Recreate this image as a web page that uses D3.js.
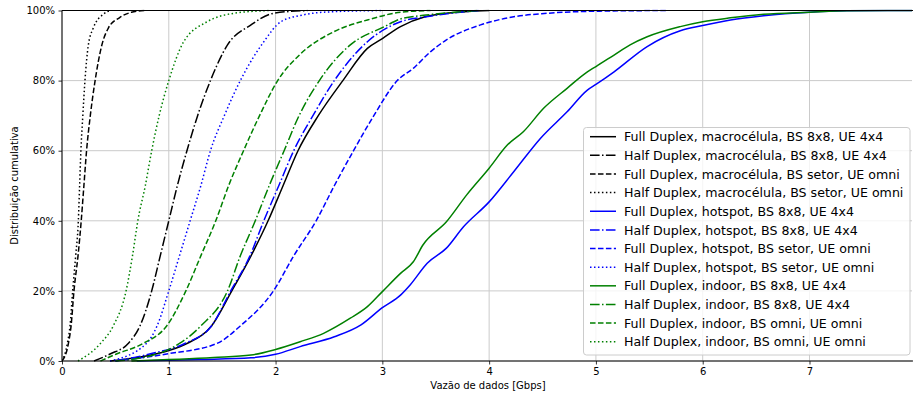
<!DOCTYPE html>
<html>
<head>
<meta charset="utf-8">
<script src="https://cdn.jsdelivr.net/npm/d3@7"></script>
<style>
  html, body { margin: 0; padding: 0; background: #fff; }
  svg { display: block; font-family: "DejaVu Sans", sans-serif; }
</style>
</head>
<body>
<svg id="chart" width="913" height="398"></svg>
<script>
// ---- Data (x: Gbps, y: cumulative %) ----
const xTicks = [0, 1, 2, 3, 4, 5, 6, 7];
const yTicks = [0, 20, 40, 60, 80, 100];
const xLabel = "Vazão de dados [Gbps]";
const yLabel = "Distribuição cumulativa";

const fdMacro8x8 = [[0.45,0],[0.8,1.5],[1.0,3],[1.17,5],[1.4,10],[1.59,20],[1.77,30],[1.93,40],[2.07,50],[2.21,60],[2.4,70],[2.63,80],[2.86,89.2],[3.0,92],[3.17,95.4],[3.4,98.2],[3.6,99.2],[4.0,100]];
const hdMacro8x8 = [[0.3,0],[0.45,2],[0.62,5],[0.73,10],[0.84,20],[0.92,30],[1.0,40],[1.08,50],[1.17,60],[1.27,70],[1.39,80],[1.55,90.2],[1.77,95.9],[1.98,99.2],[2.3,100]];
const fdMacroSetor = [[0,0],[0.06,5],[0.085,10],[0.112,20],[0.15,30],[0.18,40],[0.205,50],[0.23,60],[0.265,70],[0.31,80],[0.372,90],[0.434,95],[0.54,98],[0.65,99.5],[0.77,100]];
const hdMacroSetor = [[0,0],[0.05,5],[0.075,10],[0.1,20],[0.128,30],[0.153,40],[0.165,50],[0.177,60],[0.195,70],[0.215,80],[0.246,90],[0.293,95],[0.39,99],[0.45,100]];
const fdHotspot8x8 = [[0.7,0],[1.3,0.4],[1.77,0.9],[2.0,1.9],[2.23,4.1],[2.55,6.9],[2.8,10.3],[3.0,15.2],[3.17,18.8],[3.26,21.7],[3.42,27.9],[3.6,32.2],[3.76,38.3],[4.0,45.4],[4.23,54],[4.48,63.5],[4.73,71.1],[4.92,77.3],[5.0,78.9],[5.17,82.5],[5.48,89.7],[5.79,94.2],[6.0,95.7],[6.26,97.3],[6.57,98.5],[7.0,99.5],[7.35,99.9],[7.96,100]];
const hdHotspot8x8 = [[0.5,0],[0.82,2],[1.15,5],[1.4,10],[1.58,20],[1.76,30],[1.89,40],[2.03,50],[2.17,60],[2.35,70],[2.55,80],[2.86,91.1],[3.17,96.8],[3.41,98.2],[3.9,100]];
const fdHotspotSetor = [[0.5,0],[0.98,2],[1.45,5],[1.67,10],[1.98,20],[2.17,30],[2.38,40],[2.55,50],[2.73,60],[2.92,70],[3.14,80],[3.29,83.5],[3.45,88.2],[3.6,91.6],[3.92,95.9],[4.23,98.2],[4.54,99.2],[5.0,99.8],[5.67,100]];
const hdHotspotSetor = [[0.45,0],[0.79,5],[0.89,10],[1.0,20],[1.1,30],[1.2,40],[1.3,50],[1.39,60],[1.52,70],[1.67,80],[1.89,91.1],[2.05,96.8],[2.25,98.7],[2.5,99.6],[3.0,100]];
const fdIndoor8x8 = [[0.65,0],[1.42,1],[1.77,1.7],[2.0,3.3],[2.23,5.5],[2.45,7.9],[2.7,12.2],[2.86,15.5],[3.0,19.8],[3.17,25],[3.29,28.3],[3.38,33.1],[3.6,39.7],[3.79,47.4],[4.0,55],[4.17,61.6],[4.32,65.4],[4.51,72.1],[4.73,77.8],[4.92,82.5],[5.0,84],[5.17,87.3],[5.32,90.2],[5.48,92.5],[5.79,95.4],[6.0,96.8],[6.26,97.9],[6.57,98.9],[7.0,99.5],[7.35,99.9],[7.96,100]];
const hdIndoor8x8 = [[0.5,0],[0.89,2],[1.1,5],[1.3,10],[1.55,20],[1.67,30],[1.81,40],[1.94,50],[2.08,60],[2.22,70],[2.41,80],[2.7,90.2],[3.02,95.4],[3.17,97.6],[3.41,98.7],[3.9,100]];
const fdIndoorOmni = [[0.36,0],[0.51,2],[0.76,5],[0.98,10],[1.16,20],[1.3,30],[1.44,40],[1.56,50],[1.7,60],[1.85,70],[2.02,80],[2.23,87.5],[2.55,94],[2.86,97.3],[3.17,99.5],[3.45,100]];
const hdIndoorOmni = [[0.15,0],[0.36,5],[0.48,10],[0.6,20],[0.66,30],[0.71,40],[0.78,50],[0.84,60],[0.91,70],[1.0,80],[1.14,91.1],[1.36,96.8],[1.61,99.2],[1.95,100]];

const seriesNames = [
  "Full Duplex, macrocélula, BS 8x8, UE 4x4",
  "Half Duplex, macrocélula, BS 8x8, UE 4x4",
  "Full Duplex, macrocélula, BS setor, UE omni",
  "Half Duplex, macrocélula, BS setor, UE omni",
  "Full Duplex, hotspot, BS 8x8, UE 4x4",
  "Half Duplex, hotspot, BS 8x8, UE 4x4",
  "Full Duplex, hotspot, BS setor, UE omni",
  "Half Duplex, hotspot, BS setor, UE omni",
  "Full Duplex, indoor, BS 8x8, UE 4x4",
  "Half Duplex, indoor, BS 8x8, UE 4x4",
  "Full Duplex, indoor, BS omni, UE omni",
  "Half Duplex, indoor, BS omni, UE omni"
];
const seriesData = [fdMacro8x8, hdMacro8x8, fdMacroSetor, hdMacroSetor,
  fdHotspot8x8, hdHotspot8x8, fdHotspotSetor, hdHotspotSetor,
  fdIndoor8x8, hdIndoor8x8, fdIndoorOmni, hdIndoorOmni];
const seriesColors = ["#000000","#000000","#000000","#000000",
  "#0000ff","#0000ff","#0000ff","#0000ff",
  "#008000","#008000","#008000","#008000"];
const seriesStyles = ["solid","dashdot","dashed","dotted","solid","dashdot","dashed","dotted","solid","dashdot","dashed","dotted"];

// ---- Layout ----
const dashMap = { solid: null, dashed: "5.55,2.4", dashdot: "9.6,2.4,1.5,2.4", dotted: "1.5,2.475" };
const pL = 62, pR = 912, pT = 10.5, pB = 361;
const svg = d3.select("#chart");

const x = d3.scaleLinear().domain([0, 7.96]).range([pL, pR]);
const y = d3.scaleLinear().domain([0, 100]).range([pB, pT]);

// grid
const grid = svg.append("g");
grid.selectAll("line.vx").data(xTicks).join("line")
  .attr("x1", d => x(d)).attr("x2", d => x(d))
  .attr("y1", pT).attr("y2", pB)
  .attr("stroke", "#cbcbcb").attr("stroke-width", 1);
grid.selectAll("line.hy").data(yTicks).join("line")
  .attr("x1", pL).attr("x2", pR)
  .attr("y1", d => y(d)).attr("y2", d => y(d))
  .attr("stroke", "#cbcbcb").attr("stroke-width", 1);

// clip
svg.append("clipPath").attr("id", "clip").append("rect")
  .attr("x", pL).attr("y", pT - 1).attr("width", pR - pL + 2).attr("height", pB - pT + 2);

const line = d3.line().x(d => x(d[0])).y(d => y(d[1])).curve(d3.curveMonotoneX);
const lines = svg.append("g").attr("clip-path", "url(#clip)");
seriesData.forEach((data, i) => {
  lines.append("path")
    .attr("d", line(data))
    .attr("fill", "none")
    .attr("stroke", seriesColors[i])
    .attr("stroke-width", 1.5)
    .attr("stroke-dasharray", dashMap[seriesStyles[i]])
    .attr("stroke-linejoin", "round");
});

// axes
const xAxis = d3.axisBottom(x).tickValues(xTicks).tickSize(3.5).tickPadding(3.5).tickFormat(d3.format("d"));
const yAxis = d3.axisLeft(y).tickValues(yTicks).tickSize(3.5).tickPadding(3.5).tickFormat(d => d + "%");
const gx = svg.append("g").attr("transform", `translate(0,${pB})`).call(xAxis);
const gy = svg.append("g").attr("transform", `translate(${pL},0)`).call(yAxis);
[gx, gy].forEach(g => {
  g.select(".domain").remove();
  g.selectAll(".tick line").attr("stroke", "#000").attr("stroke-width", 0.8);
  g.selectAll(".tick text").attr("fill", "#000").attr("font-size", 10).attr("font-family", "DejaVu Sans");
});

// spines
svg.append("line").attr("x1", pL).attr("x2", pL).attr("y1", pT).attr("y2", pB).attr("stroke", "#000").attr("stroke-width", 1);
svg.append("line").attr("x1", pL).attr("x2", 913).attr("y1", pB).attr("y2", pB).attr("stroke", "#000").attr("stroke-width", 1);
svg.append("line").attr("x1", pL).attr("x2", 913).attr("y1", pT).attr("y2", pT).attr("stroke", "#000").attr("stroke-width", 1);

// labels
svg.append("text").attr("x", (pL + pR) / 2 + 1).attr("y", 389)
  .attr("text-anchor", "middle").attr("font-size", 10).attr("fill", "#000").text(xLabel);
svg.append("text").attr("transform", "translate(17.6,185.5) rotate(-90)")
  .attr("text-anchor", "middle").attr("font-size", 10).attr("fill", "#000").text(yLabel);

// legend
const lg = svg.append("g");
lg.append("rect").attr("x", 583.5).attr("y", 127.5).attr("width", 326.5).attr("height", 227.5)
  .attr("rx", 3).attr("fill", "#fff").attr("fill-opacity", 0.8)
  .attr("stroke", "#cccccc").attr("stroke-width", 1);
const rowY0 = 136.7, rowStep = 18.64;
seriesNames.forEach((name, i) => {
  const cy = rowY0 + i * rowStep;
  lg.append("line").attr("x1", 590).attr("x2", 616).attr("y1", cy).attr("y2", cy)
    .attr("stroke", seriesColors[i]).attr("stroke-width", 1.5)
    .attr("stroke-dasharray", dashMap[seriesStyles[i]]);
  lg.append("text").attr("x", 624).attr("y", cy + 4.6)
    .attr("font-size", 12.6).attr("fill", "#000").text(name);
});
</script>
</body>
</html>
